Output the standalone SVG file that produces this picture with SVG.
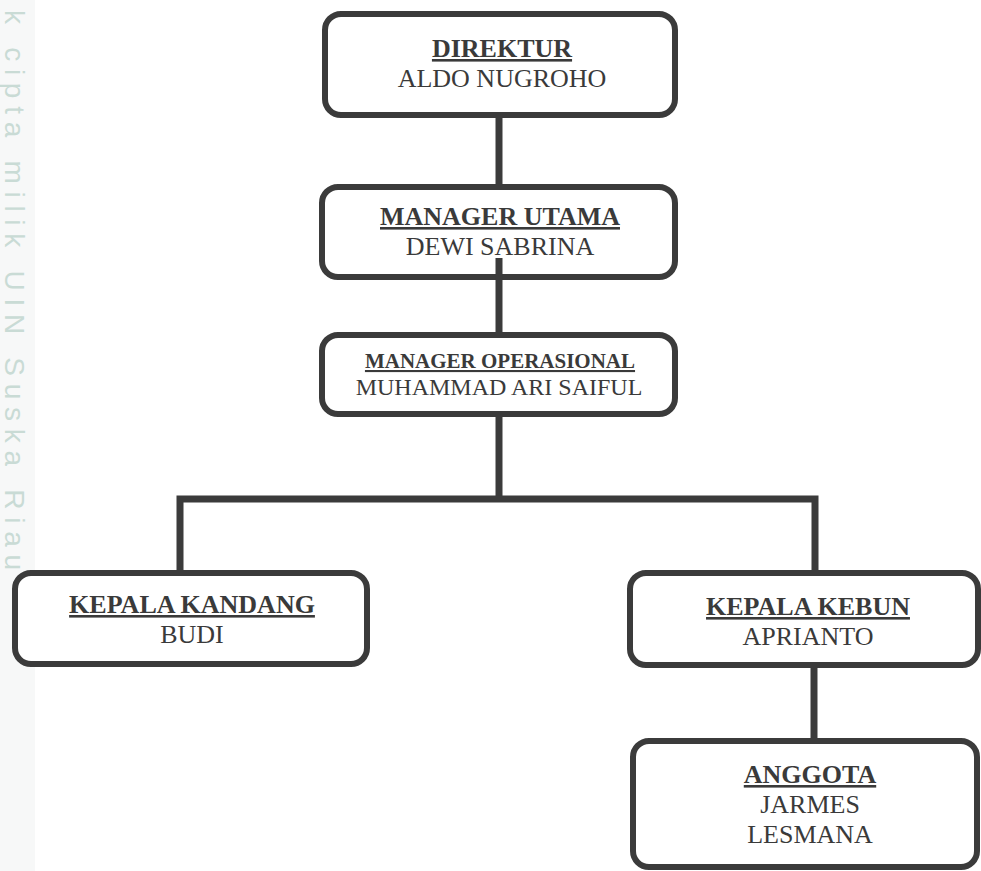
<svg xmlns="http://www.w3.org/2000/svg" width="981" height="871" viewBox="0 0 981 871">
<style>
.box{fill:#ffffff;stroke:#3b3b3b;stroke-width:6}
.con{fill:none;stroke:#3b3b3b;stroke-width:7;stroke-linejoin:miter;stroke-linecap:butt}
.t{font-family:"Liberation Serif","Times New Roman",serif;fill:#3a3a3a;text-anchor:middle;font-size:26px}
.h{font-weight:bold;text-decoration:underline}
.wm{font-family:"Liberation Sans",Arial,sans-serif;fill:#c9dbd5;font-size:28px}
</style>
<rect x="0" y="0" width="981" height="871" fill="#ffffff"/>
<rect x="0" y="0" width="35" height="871" fill="#f7f8f8"/>
<text class="wm" transform="translate(5,10) rotate(90)" textLength="560" lengthAdjust="spacing">k cipta milik UIN Suska Riau</text>
<g id="connectors">
<line class="con" x1="499" y1="116" x2="499" y2="187"/>
<line class="con" x1="499" y1="258" x2="499" y2="335"/>
<line class="con" x1="499" y1="414" x2="499" y2="499"/>
<polyline class="con" points="180,573 180,499 815,499 815,573"/>
<line class="con" x1="814" y1="665" x2="814" y2="741"/>
</g>
<g id="direktur">
<rect class="box" x="325" y="14" width="350" height="101" rx="16"/>
<text class="t h" x="502" y="57">DIREKTUR</text>
<text class="t" x="502" y="87">ALDO NUGROHO</text>
</g>
<g id="manager-utama">
<rect class="box" x="322" y="187" width="353" height="90" rx="16"/>
<text class="t h" x="500" y="225">MANAGER UTAMA</text>
<text class="t" x="500" y="255">DEWI SABRINA</text>
</g>
<line class="con" x1="499" y1="258" x2="499" y2="280"/>
<g id="manager-operasional">
<rect class="box" x="322" y="335" width="353" height="79" rx="16"/>
<text class="t h" x="500" y="368" style="font-size:21px">MANAGER OPERASIONAL</text>
<text class="t" x="499" y="395" style="font-size:24px">MUHAMMAD ARI SAIFUL</text>
</g>
<g id="kepala-kandang">
<rect class="box" x="15" y="573" width="352" height="91" rx="16"/>
<text class="t h" x="192" y="613">KEPALA KANDANG</text>
<text class="t" x="192" y="643">BUDI</text>
</g>
<g id="kepala-kebun">
<rect class="box" x="630" y="573" width="348" height="92" rx="16"/>
<text class="t h" x="808" y="615">KEPALA KEBUN</text>
<text class="t" x="808" y="645">APRIANTO</text>
</g>
<g id="anggota">
<rect class="box" x="633" y="741" width="344" height="126" rx="16"/>
<text class="t h" x="810" y="783">ANGGOTA</text>
<text class="t" x="810" y="813">JARMES</text>
<text class="t" x="810" y="843">LESMANA</text>
</g>
</svg>
